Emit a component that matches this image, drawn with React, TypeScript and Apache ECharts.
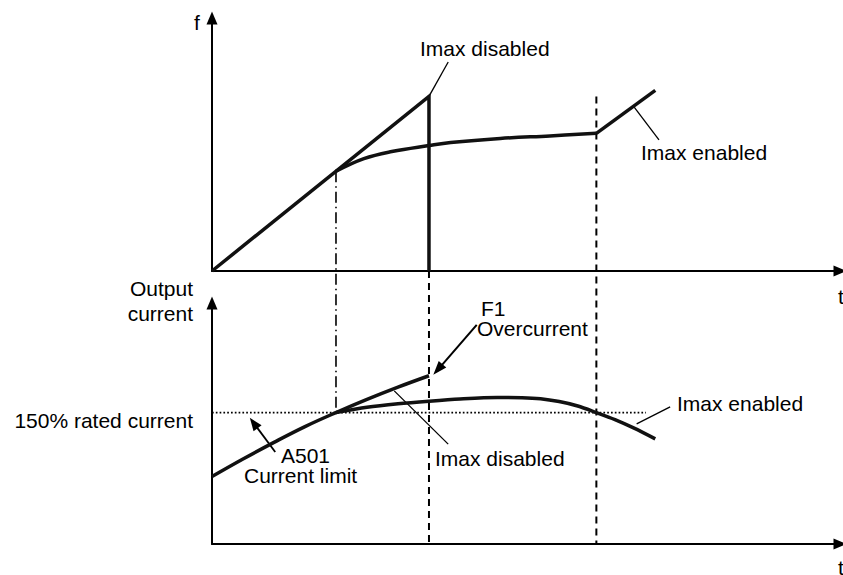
import React, { useEffect, useRef } from "react";
import * as echarts from "echarts";

// ---- axis ranges (arbitrary time / frequency / current units) ----
const T_MAX = 10.13;
const F_MAX = 10;
const I_MAX = 275;

// ---- top panel: output frequency f over t ----
const fImaxDisabled: number[][] = [[0, 0], [3.5, 6.9], [3.5, 0]];
const fImaxEnabledCurve: number[][] = [
  [2, 3.94], [2.45, 4.44], [2.9, 4.72], [3.5, 4.96], [3.85, 5.08],
  [4.65, 5.24], [5.45, 5.34], [6.2, 5.44],
];
const fImaxEnabledRamp: number[][] = [[6.2, 5.44], [7.15, 7.14]];

// ---- bottom panel: output current (% rated) over t ----
const iRising: number[][] = [
  [0, 77], [0.5, 97], [1, 116], [1.5, 134], [2, 150], [2.5, 165], [3, 179], [3.5, 192],
];
const iImaxEnabled: number[][] = [
  [2, 150], [2.5, 156], [3, 160], [3.5, 163], [4, 165.5], [4.6, 167.2], [5, 167],
  [5.3, 165.8], [5.6, 162.5], [5.9, 157.5], [6.2, 150], [6.5, 142], [6.8, 132.5], [7.15, 120],
];
const ratedCurrent = 150;
const ratedLineEnd = 7.0;

// ---- event instants ----
const tLimit = 2; // current limit reached
const tTrip = 3.5; // F1 overcurrent trip
const tRelease = 6.2; // current falls below limit
const fAtLimit = 3.94;
const fPeak = 6.9;

// ---- annotation anchors (data coords) ----
const leaderTopDisabled = [[3.81, 8.26], [3.5, 6.9]];
const leaderTopEnabled = [[6.81, 6.48], [7.21, 5.18]];
const leaderBotDisabled = [[2.94, 174.7], [3.81, 114]];
const leaderBotEnabled = [[6.85, 137], [7.39, 156.4]];
const arrowF1 = [[4.27, 250], [3.57, 193]];
const arrowA501 = [[1.02, 105], [0.61, 144]];

const FONT = "'Liberation Sans', Arial, Helvetica, sans-serif";

export default function App() {
  const ref = useRef<HTMLDivElement>(null);

  useEffect(() => {
    if (!ref.current) return;
    const chart = echarts.init(ref.current, undefined, { renderer: "svg" });

    const axisLine = {
      show: true,
      onZero: false,
      symbol: ["none", "triangle"],
      symbolSize: [11, 13],
      lineStyle: { color: "#000", width: 2 },
    };
    const xAxisBase = {
      type: "value" as const,
      min: 0,
      max: T_MAX,
      axisLine,
      axisTick: { show: false },
      axisLabel: { show: false },
      splitLine: { show: false },
    };
    const thick = { color: "#111", width: 3.5, join: "miter" as const, cap: "butt" as const };

    chart.setOption({
      animation: false,
      backgroundColor: "#fff",
      grid: [
        { left: 212, right: 3, top: 18, bottom: 304 },
        { left: 212, right: 3, top: 303, bottom: 31 },
      ],
      xAxis: [
        { ...xAxisBase, gridIndex: 0 },
        { ...xAxisBase, gridIndex: 1 },
      ],
      yAxis: [
        { ...xAxisBase, gridIndex: 0, max: F_MAX },
        { ...xAxisBase, gridIndex: 1, max: I_MAX },
      ],
      series: [
        {
          type: "line", xAxisIndex: 0, yAxisIndex: 0, data: fImaxDisabled,
          symbol: "none", lineStyle: thick, clip: false,
        },
        {
          type: "line", xAxisIndex: 0, yAxisIndex: 0, data: fImaxEnabledCurve,
          symbol: "none", smooth: 0.4, lineStyle: thick, clip: false,
        },
        {
          type: "line", xAxisIndex: 0, yAxisIndex: 0, data: fImaxEnabledRamp,
          symbol: "none", lineStyle: thick, clip: false,
        },
        {
          type: "line", xAxisIndex: 1, yAxisIndex: 1,
          data: [[0, ratedCurrent], [ratedLineEnd, ratedCurrent]],
          symbol: "none", lineStyle: { color: "#000", width: 1.7, type: [1.7, 2.1] }, z: 1,
        },
        {
          type: "line", xAxisIndex: 1, yAxisIndex: 1, data: iRising,
          symbol: "none", smooth: 0.4, lineStyle: thick, clip: false,
        },
        {
          type: "line", xAxisIndex: 1, yAxisIndex: 1, data: iImaxEnabled,
          symbol: "none", smooth: 0.3, lineStyle: thick, clip: false,
        },
      ],
    });

    const p0 = (d: number[]) => chart.convertToPixel({ gridIndex: 0 }, d) as number[];
    const p1 = (d: number[]) => chart.convertToPixel({ gridIndex: 1 }, d) as number[];

    const seg = (a: number[], b: number[], style: any) => ({
      type: "line",
      shape: { x1: a[0], y1: a[1], x2: b[0], y2: b[1] },
      style: { stroke: "#000", lineWidth: 1.3, ...style },
      z: 1,
    });

    const arrow = (tail: number[], tip: number[], headLen: number, headW: number, lw: number) => {
      const dx = tip[0] - tail[0];
      const dy = tip[1] - tail[1];
      const L = Math.hypot(dx, dy);
      const ux = dx / L, uy = dy / L;
      const bx = tip[0] - ux * headLen, by = tip[1] - uy * headLen;
      const nx = -uy, ny = ux;
      return [
        seg(tail, [bx + ux * 2, by + uy * 2], { lineWidth: lw }),
        {
          type: "polygon",
          shape: {
            points: [
              tip,
              [bx + (nx * headW) / 2, by + (ny * headW) / 2],
              [bx - (nx * headW) / 2, by - (ny * headW) / 2],
            ],
          },
          style: { fill: "#000" },
          z: 1,
        },
      ];
    };

    const txt = (text: string, x: number, y: number, align: string = "left") => ({
      type: "text",
      x,
      y,
      style: {
        text,
        fill: "#000",
        font: `21px ${FONT}`,
        align,
        verticalAlign: "middle",
      },
      z: 5,
    });

    const dashed = { lineWidth: 2, lineDash: [7, 5] };

    chart.setOption({
      graphic: [
        // dash-dot: current limit reached
        seg(p0([tLimit, fAtLimit]), p1([tLimit, ratedCurrent]), { lineWidth: 1.6, lineDash: [11, 4, 1.5, 4] }),
        // dashed: trip instant
        seg(p0([tTrip, 0]), p1([tTrip, 0]), dashed),
        // dashed: release instant
        seg(p0([tRelease, fPeak]), p1([tRelease, 0]), dashed),
        // leaders
        seg(p0(leaderTopDisabled[0]), p0(leaderTopDisabled[1]), {}),
        seg(p0(leaderTopEnabled[0]), p0(leaderTopEnabled[1]), {}),
        seg(p1(leaderBotDisabled[0]), p1(leaderBotDisabled[1]), {}),
        seg(p1(leaderBotEnabled[0]), p1(leaderBotEnabled[1]), {}),
        ...arrow(p1(arrowF1[0]), p1(arrowF1[1]), 14, 10, 2),
        ...arrow(p1(arrowA501[0]), p1(arrowA501[1]), 13, 10, 1.8),
        // texts
        txt("f", 197, 22, "center"),
        txt("t", 838, 296),
        txt("t", 838, 567),
        txt("Imax disabled", 420, 48),
        txt("Imax enabled", 641, 152),
        txt("Output", 193, 288, "right"),
        txt("current", 193, 313, "right"),
        txt("150% rated current", 193, 420, "right"),
        txt("A501", 281, 455),
        txt("Current limit", 244, 475),
        txt("F1", 481, 308),
        txt("Overcurrent", 477, 328),
        txt("Imax disabled", 435, 458),
        txt("Imax enabled", 677, 403),
      ],
    });

    return () => chart.dispose();
  }, []);

  return (
    <div
      ref={ref}
      style={{ position: "fixed", left: 0, top: 0, width: 843, height: 575, background: "#fff" }}
    />
  );
}
